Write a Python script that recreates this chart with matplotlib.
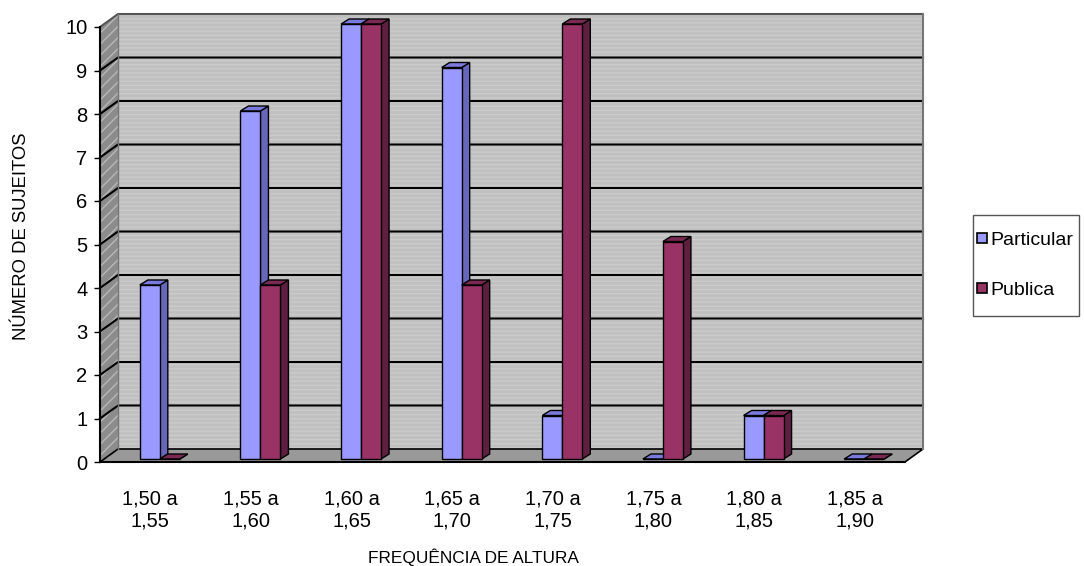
import matplotlib
matplotlib.use("Agg")
import matplotlib.pyplot as plt
from matplotlib.patches import Polygon, Rectangle
from matplotlib.lines import Line2D

categories = ["1,50 a\n1,55", "1,55 a\n1,60", "1,60 a\n1,65", "1,65 a\n1,70",
              "1,70 a\n1,75", "1,75 a\n1,80", "1,80 a\n1,85", "1,85 a\n1,90"]
particular = [4, 8, 10, 9, 1, 0, 1, 0]
publica = [0, 4, 10, 4, 10, 5, 1, 0]
series_names = ["Particular", "Publica"]
yticks = list(range(0, 11))

plt.rcParams['font.family'] = ['Liberation Sans', 'DejaVu Sans']

W, H = 1084, 566
fig = plt.figure(figsize=(W / 100, H / 100), dpi=100)

# front plot rectangle in pixels
L, R, B, T = 100, 905, 462, 27
ax = fig.add_axes([L / W, 1 - B / H, (R - L) / W, (B - T) / H])
n = len(categories)
ax.set_xlim(0, n)
ax.set_ylim(0, 10)

pxx = n / (R - L)        # data units per pixel in x
pxy = 10 / (B - T)       # data units per pixel in y
dx, dy = 18 * pxx, 13 * pxy   # wall depth

# back wall
ax.add_patch(Polygon([(dx, dy), (n + dx, dy), (n + dx, 10 + dy), (dx, 10 + dy)],
                     closed=True, facecolor="#c0c0c0", edgecolor="none", zorder=0, clip_on=False))
ax.add_patch(Polygon([(dx, dy), (n + dx, dy), (n + dx, 10 + dy), (dx, 10 + dy)],
                     closed=True, facecolor="none", edgecolor="#cbcbcb", hatch="----", lw=0,
                     zorder=0.1, clip_on=False))
# left wall
ax.add_patch(Polygon([(0, 0), (dx, dy), (dx, 10 + dy), (0, 10)],
                     closed=True, facecolor="#8c8c8c", edgecolor="none", zorder=0, clip_on=False))
ax.add_patch(Polygon([(0, 0), (dx, dy), (dx, 10 + dy), (0, 10)],
                     closed=True, facecolor="none", edgecolor="#b8b8b8", hatch="///", lw=0,
                     zorder=0.1, clip_on=False))
# floor
ax.add_patch(Polygon([(0, 0), (n, 0), (n + dx, dy), (dx, dy)],
                     closed=True, facecolor="#999999", edgecolor="black", lw=1.2, zorder=0.2, clip_on=False))

# grid lines
for v in yticks[1:]:
    col = "black" if v < 10 else "#555555"
    ax.plot([0, dx, n + dx], [v, v + dy, v + dy], color=col, lw=1.5, zorder=0.5, clip_on=False)
ax.plot([dx, dx], [dy, 10 + dy], color="#777777", lw=1, zorder=0.5, clip_on=False)
ax.plot([n + dx, n + dx], [dy, 10 + dy], color="#777777", lw=1.5, zorder=0.5, clip_on=False)

# bars
bw = 20 * pxx
off = -14.5 * pxx
ox, oy = 4 * pxx, 3 * pxy
bdx, bdy = 8 * pxx, 5 * pxy
front_cols = ["#9999ff", "#993366"]
side_cols = ["#6666bb", "#5e1f40"]
top_cols = ["#7a7add", "#7a2a52"]
series = [particular, publica]

z = 2
for i in range(n):
    for s in range(2):
        x0 = i + 0.5 + off + s * bw + ox
        bars = ax.bar([x0], [series[s][i]], width=bw, bottom=oy, align="edge",
                      color=front_cols[s], edgecolor="black", lw=1, zorder=z + 0.1, clip_on=False)
        p = bars.patches[0]
        xl = p.get_x(); xr = xl + p.get_width()
        yb = p.get_y(); yt = yb + p.get_height()
        ax.add_patch(Polygon([(xr, yb), (xr + bdx, yb + bdy), (xr + bdx, yt + bdy), (xr, yt)],
                             closed=True, facecolor=side_cols[s], edgecolor="black", lw=1,
                             zorder=z, clip_on=False))
        ax.add_patch(Polygon([(xl, yt), (xr, yt), (xr + bdx, yt + bdy), (xl + bdx, yt + bdy)],
                             closed=True, facecolor=top_cols[s], edgecolor="black", lw=1,
                             zorder=z, clip_on=False))
        z += 0.5

# axes styling
for sp in ["top", "right"]:
    ax.spines[sp].set_visible(False)
ax.spines["left"].set_linewidth(1.5)
ax.spines["bottom"].set_linewidth(1.5)
ax.spines["left"].set_zorder(1)
ax.spines["bottom"].set_zorder(1)
ax.set_yticks(yticks)
ax.set_yticklabels([str(v) for v in yticks], fontsize=14.5)
ax.tick_params(axis="y", length=4, width=1, pad=5)
ax.set_xticks([i + 0.5 for i in range(n)])
ax.set_xticklabels(categories, fontsize=14.5, linespacing=1.15)
ax.tick_params(axis="x", length=0, pad=20)
ax.set_facecolor("none")

fig.text(22 / W, 1 - 236 / H, "NÚMERO DE SUJEITOS", rotation=90, ha="center", va="center", fontsize=13.3)
fig.text(473 / W, 1 - 563 / H, "FREQUÊNCIA DE ALTURA", ha="center", va="baseline", fontsize=12.4)

# legend frame
fig.add_artist(Rectangle((973 / W, 1 - 316 / H), (1079 - 973) / W, (316 - 215) / H,
                         transform=fig.transFigure, facecolor="white", edgecolor="#555555", lw=1))
handles = [Line2D([], [], marker="s", linestyle="none", markersize=7.5, markerfacecolor=c,
                  markeredgecolor="black", markeredgewidth=1.2) for c in front_cols]
leg = fig.legend(handles, series_names, loc="center left",
                 bbox_to_anchor=(975 / W, 1 - 265 / H), fontsize=14, frameon=False,
                 handlelength=0.5, handletextpad=0.2, labelspacing=1.66,
                 borderpad=0.1, borderaxespad=0)

fig.savefig("out.png", dpi=100)
